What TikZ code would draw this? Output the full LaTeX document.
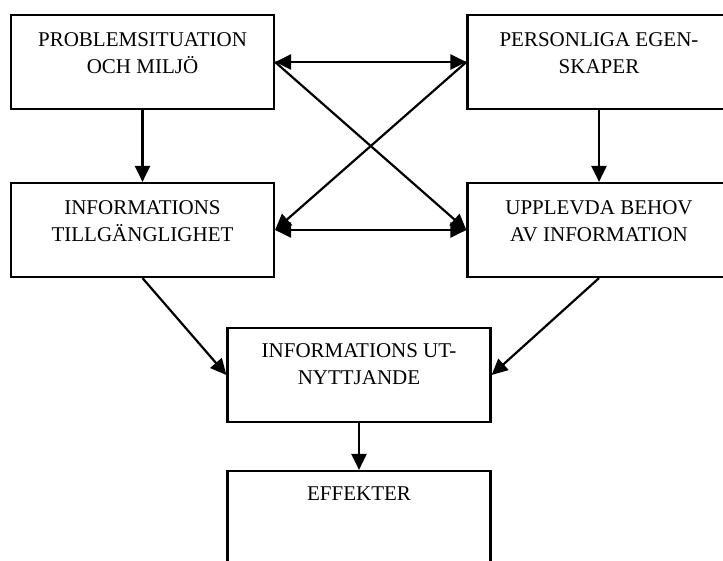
\documentclass[tikz,border=0pt]{standalone}
\usepackage{fontspec}
\setmainfont{Liberation Serif}
\usetikzlibrary{arrows.meta,positioning}
\tikzset{
	box/.style={draw, line width=2.2pt, minimum width=263pt, minimum height=94pt, inner sep=0pt},
	txt/.style={align=center, inner sep=0pt, font=\fontsize{21}{27}\selectfont},
	pil/.style={line width=2.2pt, -{Triangle[length=16pt,width=15pt]}},
	dpil/.style={line width=2.2pt, {Triangle[length=16pt,width=15pt]}-{Triangle[length=16pt,width=15pt]}}
}
\begin{document}
\begin{tikzpicture}[x=1pt, y=-1pt]
\useasboundingbox (0, 0) rectangle (723, 560);

\node[box] (prob) at (142.5, 62) {};
\node[box] (pers) at (599, 62) {};
\node[box] (till) at (142.5, 230) {};
\node[box] (upp) at (599, 230) {};
\node[box] (utn) at (359, 375) {};
\node[box] (eff) at (359, 518) {};

\node[txt, anchor=north, below=18pt of prob.north] (probtxt) {PROBLEMSITUATION\\OCH MILJÖ};
\node[txt, anchor=north, below=18pt of pers.north] (perstxt) {PERSONLIGA EGEN-\\SKAPER};
\node[txt, anchor=north, below=18pt of till.north] (tilltxt) {INFORMATIONS\\TILLGÄNGLIGHET};
\node[txt, anchor=north, below=18pt of upp.north] (upptxt) {UPPLEVDA BEHOV\\AV INFORMATION};
\node[txt, anchor=north, below=16pt of utn.north] (utntxt) {INFORMATIONS UT-\\NYTTJANDE};
\node[txt, anchor=north, below=17pt of eff.north] (efftxt) {EFFEKTER};

\draw[dpil] (prob.east) -- (pers.west);
\draw[dpil] (till.east) -- (upp.west);
\draw[pil] (prob.east) -- (upp.west);
\draw[pil] (pers.west) -- (till.east);
\draw[pil] (prob.south) -- (till.north);
\draw[pil] (pers.south) -- (upp.north);
\draw[pil] (till.south) -- (utn.west);
\draw[pil] (upp.south) -- (utn.east);
\draw[pil] (utn.south) -- (eff.north);

\end{tikzpicture}
\end{document}
